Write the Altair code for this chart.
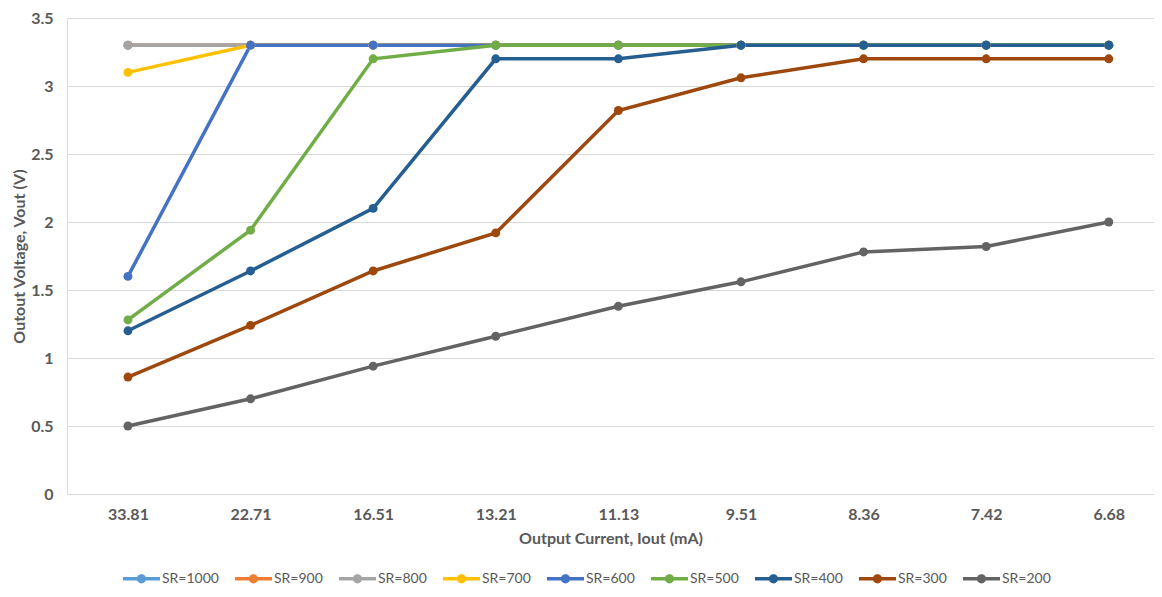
import altair as alt
import pandas as pd

iout = ["33.81", "22.71", "16.51", "13.21", "11.13", "9.51", "8.36", "7.42", "6.68"]
series_names = ["SR=1000", "SR=900", "SR=800", "SR=700", "SR=600", "SR=500", "SR=400", "SR=300", "SR=200"]
colors = ["#5B9BD5", "#ED7D31", "#A5A5A5", "#FFC000", "#4472C4", "#70AD47", "#255E91", "#9E480E", "#636363"]

sr1000 = [3.3, 3.3, 3.3, 3.3, 3.3, 3.3, 3.3, 3.3, 3.3]
sr900 = [3.3, 3.3, 3.3, 3.3, 3.3, 3.3, 3.3, 3.3, 3.3]
sr800 = [3.3, 3.3, 3.3, 3.3, 3.3, 3.3, 3.3, 3.3, 3.3]
sr700 = [3.1, 3.3, 3.3, 3.3, 3.3, 3.3, 3.3, 3.3, 3.3]
sr600 = [1.6, 3.3, 3.3, 3.3, 3.3, 3.3, 3.3, 3.3, 3.3]
sr500 = [1.28, 1.94, 3.2, 3.3, 3.3, 3.3, 3.3, 3.3, 3.3]
sr400 = [1.2, 1.64, 2.1, 3.2, 3.2, 3.3, 3.3, 3.3, 3.3]
sr300 = [0.86, 1.24, 1.64, 1.92, 2.82, 3.06, 3.2, 3.2, 3.2]
sr200 = [0.5, 0.7, 0.94, 1.16, 1.38, 1.56, 1.78, 1.82, 2.0]

all_series = [sr1000, sr900, sr800, sr700, sr600, sr500, sr400, sr300, sr200]

rows = []
for name, vals in zip(series_names, all_series):
    for x, v in zip(iout, vals):
        rows.append({"Iout": x, "Vout": v, "Series": name})
df = pd.DataFrame(rows)

FONT = "Lato"
TXT = "#595959"

legend_path = ("M-1,-0.09H1V0.09H-1Z "
               "M0,-0.25A0.25,0.25 0 1,1 0,0.25A0.25,0.25 0 1,1 0,-0.25Z")

color_scale = alt.Scale(domain=series_names, range=colors)

x_enc = alt.X("Iout:O", sort=iout,
              scale=alt.Scale(padding=0.433, align=0.574),
              axis=alt.Axis(title="Output Current, Iout (mA)", labelAngle=0,
                            ticks=False, tickSize=0, domain=False, grid=False,
                            labelPadding=12, titlePadding=8,
                            labelFont=FONT, labelFontSize=16, labelFontWeight="bold",
                            labelColor=TXT, titleFont=FONT, titleFontSize=16,
                            titleFontWeight="bold", titleColor=TXT))
y_enc = alt.Y("Vout:Q", scale=alt.Scale(domain=[0, 3.5], nice=False),
              axis=alt.Axis(title="Outout Voltage, Vout (V)",
                            values=[0, 0.5, 1, 1.5, 2, 2.5, 3, 3.5],
                            format=".1~f", ticks=False, tickSize=0, domain=False,
                            grid=True, gridColor="#D9D9D9", gridWidth=1,
                            labelPadding=14, titlePadding=3,
                            labelFont=FONT, labelFontSize=16, labelFontWeight="bold",
                            labelColor=TXT, titleFont=FONT, titleFontSize=16,
                            titleFontWeight="bold", titleColor=TXT))

base = alt.Chart(df)

lines = base.mark_line(strokeWidth=3.5).encode(
    x=x_enc, y=y_enc,
    color=alt.Color("Series:N", scale=color_scale, sort=series_names, legend=None),
)

points = base.mark_point(filled=True, size=80, opacity=1).encode(
    x=x_enc, y=y_enc,
    color=alt.Color("Series:N", scale=color_scale, sort=series_names,
                    legend=alt.Legend(title=None, orient="none", direction="horizontal",
                                      legendX=56, legendY=542,
                                      symbolType=legend_path, symbolSize=1369,
                                      symbolStrokeWidth=0, symbolOpacity=1,
                                      labelOffset=2, columnPadding=16,
                                      labelFont=FONT, labelFontSize=14, labelColor=TXT)),
)

chart = alt.layer(lines, points).resolve_legend(color="independent").properties(
    width=1087, height=476,
    autosize=alt.AutoSizeParams(type="none"),
    padding={"left": 59, "top": 10, "right": 0, "bottom": 95},
).configure_view(stroke=None).configure(background="white")

chart.save("out.html", embed_options={"renderer": "svg", "actions": False})
